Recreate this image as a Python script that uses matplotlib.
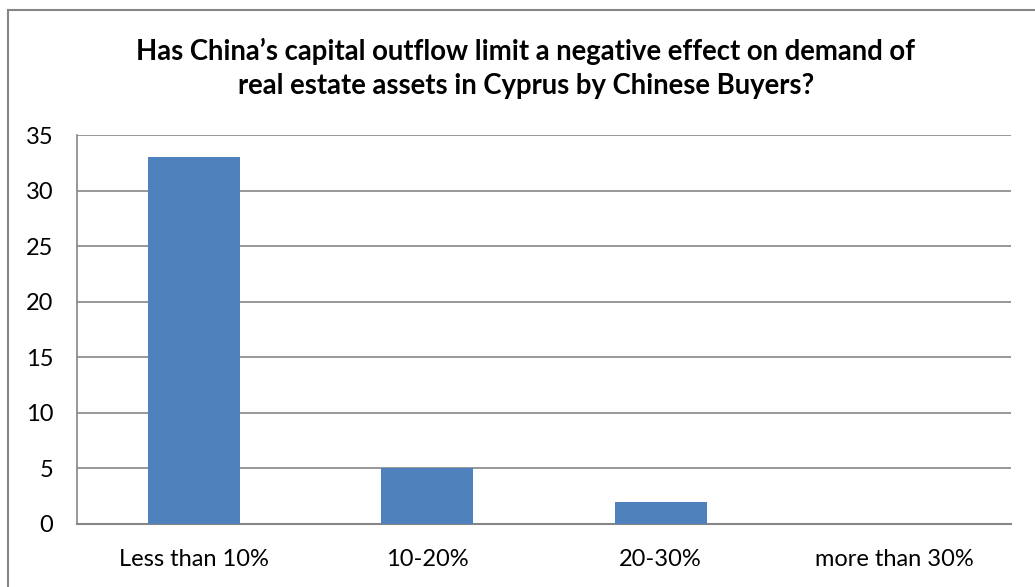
"""Bar chart: effect of China's capital outflow limit on Cyprus real estate demand."""

import matplotlib

matplotlib.use("Agg")
import matplotlib.pyplot as plt
from matplotlib.patches import Rectangle

categories = ["Less than 10%", "10-20%", "20-30%", "more than 30%"]
counts = [33, 5, 2, 0]
y_ticks = [0, 5, 10, 15, 20, 25, 30, 35]
title = ("Has China\u2019s capital outflow limit a negative effect on demand of\n"
         "real estate assets in Cyprus by Chinese Buyers?")

BAR_COLOR = "#4F81BD"
GRID_COLOR = "#868686"

plt.rcParams["font.family"] = ["Lato", "DejaVu Sans"]

W, H = 1035, 587
fig = plt.figure(figsize=(W / 100, H / 100), dpi=100)
ax = fig.add_axes([77 / W, 1 - 524 / H, (1011 - 77) / W, (524 - 135) / H])

x = range(len(categories))
ax.bar(x, counts, width=0.395, color=BAR_COLOR, zorder=3)
ax.set_xlim(-0.5, len(categories) - 0.5)
ax.set_ylim(0, 35)
ax.set_yticks(y_ticks)
ax.set_xticks(list(x))
ax.set_xticklabels(categories)
ax.tick_params(axis="both", length=0, labelsize=17, colors="black")
ax.tick_params(axis="y", pad=17)
ax.tick_params(axis="x", pad=18)
ax.yaxis.grid(True, color=GRID_COLOR, linewidth=1.2, zorder=0)

for side in ["top", "right"]:
    ax.spines[side].set_visible(False)
ax.spines["left"].set_color(GRID_COLOR)
ax.spines["bottom"].set_color(GRID_COLOR)
ax.spines["left"].set_linewidth(1.2)
ax.spines["bottom"].set_linewidth(1.5)

fig.text(526 / W, 1 - 68 / H, title, ha="center", va="center",
         fontsize=19.8, fontweight="bold", linespacing=1.38)

# outer chart border, runs off the right and bottom edge like the source
fig.patches.append(Rectangle((8 / W, -0.05), 1.1, 1 - 10 / H + 0.05,
                             transform=fig.transFigure, fill=False,
                             edgecolor=GRID_COLOR, linewidth=1.5))

fig.savefig("out.png", dpi=100)
